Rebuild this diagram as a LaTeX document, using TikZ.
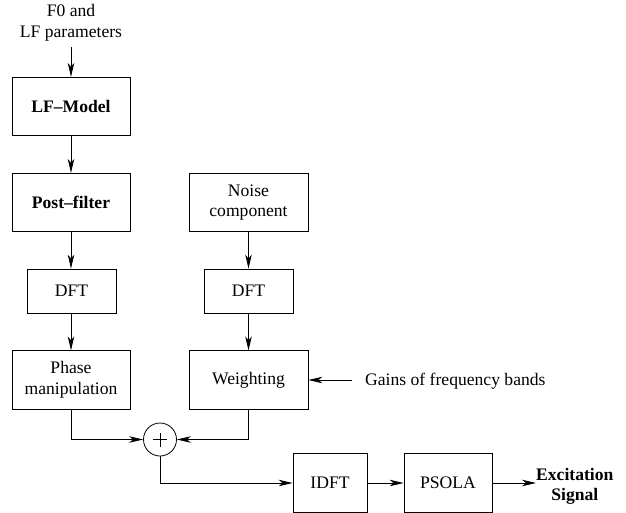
\documentclass[tikz,border=0pt]{standalone}
\usepackage{fontspec}
\setmainfont{Liberation Serif}
\usetikzlibrary{arrows.meta}
\begin{document}
\begin{tikzpicture}[x=1pt,y=-1pt,
  every node/.style={font=\fontsize{17.6}{20.5}\selectfont, inner sep=0pt, align=center},
  blk/.style={draw, line width=0.8pt, minimum width=#1, minimum height=58.5pt},
  arr/.style={-{Stealth[length=14pt,width=6.5pt,inset=4pt]}, line width=0.8pt},
  ln/.style={line width=0.8pt}]
\useasboundingbox (0,0) rectangle (626,513);
% left column
\node (src) at (71,23) {F0 and\\LF parameters};
\coordinate (srcend) at (71,47);
\node[blk=118pt, font=\fontsize{17.6}{20.5}\selectfont\bfseries] (lf) at (71,106.5) {LF–Model};
\node[blk=118pt, font=\fontsize{17.6}{20.5}\selectfont\bfseries] (pf) at (71,202.5) {Post–filter};
\node[blk=89pt, minimum height=44pt] (dft1) at (71.5,291) {DFT};
\node[blk=118pt] (ph) at (71,380) {Phase\\manipulation};
% right column
\node[blk=119pt] (nc) at (248.5,202.5) {Noise\\component};
\node[blk=89pt, minimum height=44pt] (dft2) at (248.5,291) {DFT};
\node[blk=119pt] (wt) at (248.5,380) {Weighting};
\node[anchor=west] (gains) at (365,381.5) {Gains of frequency bands};
\coordinate (gstart) at (352,380);
% adder
\node[draw, circle, line width=0.8pt, minimum size=33pt] (add) at (160,439.5) {};
\draw[ln] ([xshift=-7pt]add.center) -- ([xshift=7pt]add.center);
\draw[ln] ([yshift=-7pt]add.center) -- ([yshift=7pt]add.center);
% bottom row
\node[blk=74pt] (idft) at (330,483) {IDFT};
\node[blk=88pt] (psola) at (448,483) {PSOLA};
\node[anchor=west, font=\fontsize{17.6}{20.5}\selectfont\bfseries] (exc) at (536,486.5) {Excitation\\Signal};
% connectors
\draw[arr] (srcend) -- (lf.north);
\draw[arr] (lf.south) -- (pf.north);
\draw[arr] (pf.south) -- (pf.south |- dft1.north);
\draw[arr] (dft1.south -| ph.north) -- (ph.north);
\draw[arr] (nc.south) -- (dft2.north);
\draw[arr] (dft2.south) -- (wt.north);
\draw[arr] (gstart) -- (wt.east |- gstart);
\draw[arr] (ph.south) |- (add.west);
\draw[arr] (wt.south) |- (add.east);
\draw[arr] (add.south) |- (idft.west);
\draw[arr] (idft.east) -- (psola.west);
\draw[arr] (psola.east) -- (psola.east -| exc.west);
\end{tikzpicture}
\end{document}
